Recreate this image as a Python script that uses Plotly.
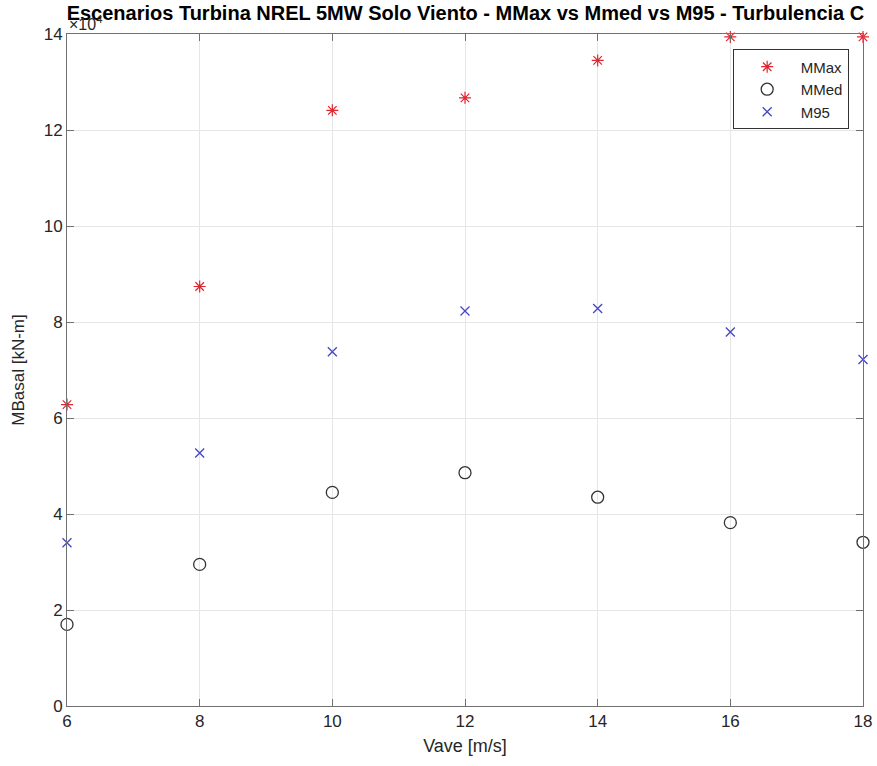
import plotly.graph_objects as go

vave = [6, 8, 10, 12, 14, 16, 18]
mmax = [6.28, 8.74, 12.41, 12.67, 13.45, 13.94, 13.94]
mmed = [1.70, 2.95, 4.45, 4.86, 4.35, 3.82, 3.41]
m95 = [3.40, 5.27, 7.38, 8.23, 8.28, 7.79, 7.22]
xticks = [6, 8, 10, 12, 14, 16, 18]
yticks = [0, 2, 4, 6, 8, 10, 12, 14]

font = "Liberation Sans, Arial, sans-serif"
axis_col = "#707070"
text_col = "#262626"

fig = go.Figure()
fig.add_trace(go.Scatter(x=vave, y=mmax, mode="markers", name="MMax",
                         marker=dict(symbol="asterisk-open", size=10, color="#e0262e",
                                     line=dict(color="#e0262e", width=1.2)), cliponaxis=False))
fig.add_trace(go.Scatter(x=vave, y=mmed, mode="markers", name="MMed",
                         marker=dict(symbol="circle-open", size=12, color="#333333",
                                     line=dict(color="#333333", width=1.3)), cliponaxis=False))
fig.add_trace(go.Scatter(x=vave, y=m95, mode="markers", name="M95",
                         marker=dict(symbol="x-thin-open", size=9, color="#4646c8",
                                     line=dict(color="#4646c8", width=1.3)), cliponaxis=False))

axcommon = dict(showline=True, linecolor=axis_col, linewidth=1, mirror="ticks",
                ticks="inside", ticklen=7, tickcolor=axis_col, showgrid=True,
                gridcolor="#e6e6e6", gridwidth=1, zeroline=False, automargin=False,
                tickfont=dict(family=font, size=17, color=text_col))

fig.update_xaxes(range=[6, 18], tickvals=xticks, ticktext=[str(v) for v in xticks],
                 title=dict(text="Vave [m/s]", font=dict(family=font, size=18, color=text_col), standoff=8),
                 **axcommon)
fig.update_yaxes(range=[0, 14], tickvals=yticks, ticktext=[str(v) for v in yticks],
                 title=dict(text="MBasal [kN-m]", font=dict(family=font, size=17, color=text_col), standoff=14),
                 **axcommon)

fig.add_annotation(xref="paper", yref="paper", x=0.0, y=1.0, xanchor="left", yanchor="bottom",
                   text="×10<sup>4</sup>", showarrow=False, yshift=-1,
                   font=dict(family=font, size=16, color=text_col))

fig.update_layout(
    width=877, height=766,
    margin=dict(l=67, r=14, t=34, b=60),
    paper_bgcolor="white", plot_bgcolor="white",
    title=dict(text="<b>Escenarios Turbina NREL 5MW Solo Viento - MMax vs Mmed vs M95 - Turbulencia C</b>",
               x=0.5307, xanchor="center", y=0.983, yanchor="middle", automargin=False,
               font=dict(family=font, size=20, color="#000000")),
    legend=dict(x=0.982, y=0.977, xanchor="right", yanchor="top",
                bgcolor="white", bordercolor="#333333", borderwidth=1,
                font=dict(family=font, size=15, color=text_col),
                itemwidth=57, tracegroupgap=0),
    showlegend=True,
)

fig.write_html("out.html", config={"displayModeBar": False},
               post_script="document.body.style.margin='0';document.body.style.padding='0';document.body.style.overflow='hidden';")
